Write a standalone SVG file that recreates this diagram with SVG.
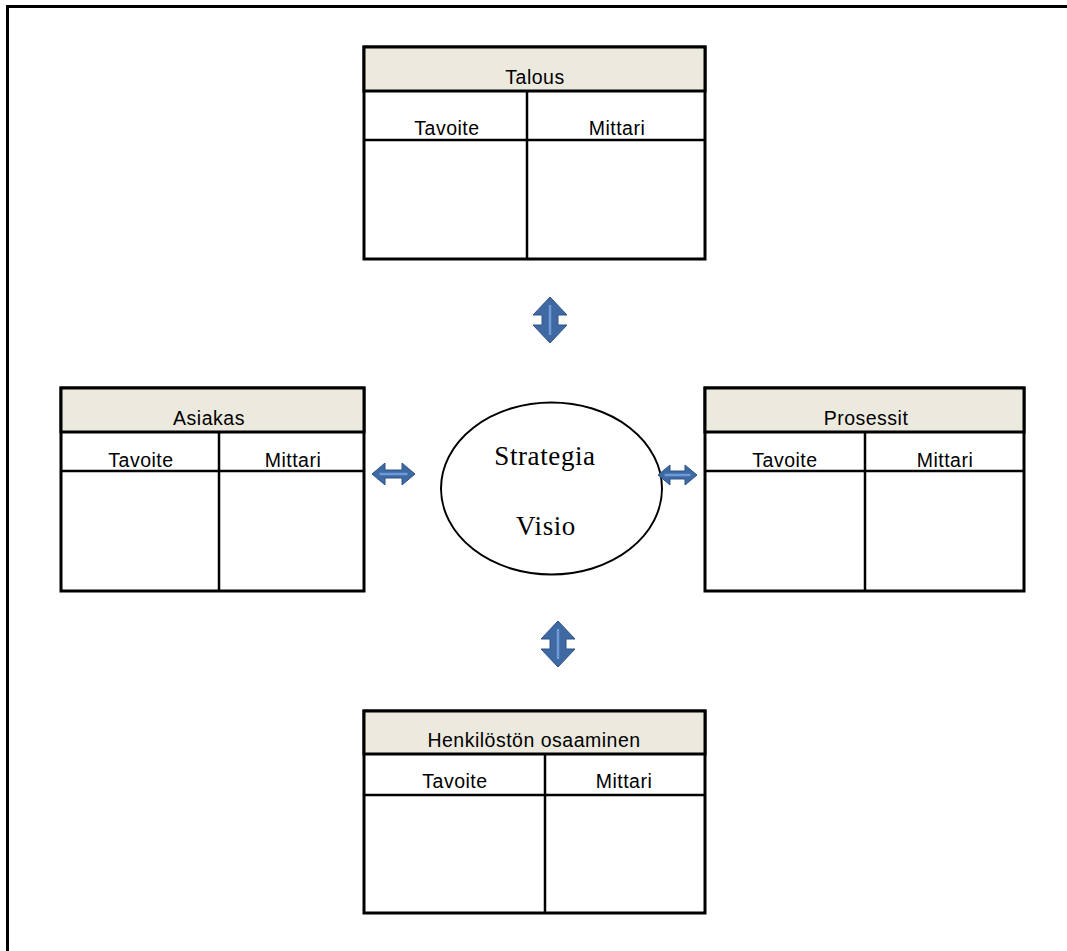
<svg xmlns="http://www.w3.org/2000/svg" width="1067" height="951" viewBox="0 0 1067 951">
<style>
.box{fill:#fff;stroke:#000;stroke-width:3}
.hdr{fill:#ECE9DF;stroke:#000;stroke-width:3}
.ln{stroke:#000;stroke-width:2.5;fill:none}
.t{font-family:"Liberation Sans",Arial,sans-serif;font-size:19.5px;letter-spacing:0.5px;fill:#000;text-anchor:middle}
.s{font-family:"Liberation Serif","Times New Roman",serif;font-size:27px;letter-spacing:0.6px;fill:#000;text-anchor:middle}
.arr{fill:#3E69A2;stroke:#2E5488;stroke-width:1;stroke-linejoin:miter}
.in{stroke:#6C9BD8;stroke-width:2.5;fill:none}
</style>
<g id="frame">
<line x1="7.5" y1="6.5" x2="1067" y2="6.5" stroke="#000" stroke-width="3"/>
<line x1="7.5" y1="5" x2="7.5" y2="951" stroke="#000" stroke-width="3"/>
</g>
<g id="talous">
<rect class="box" x="364" y="47" width="341" height="212"/>
<rect class="hdr" x="364" y="47" width="341" height="44"/>
<line class="ln" x1="364" y1="140" x2="705" y2="140"/>
<line class="ln" x1="527" y1="91" x2="527" y2="259"/>
<text class="t" x="535" y="84">Talous</text>
<text class="t" x="447" y="135">Tavoite</text>
<text class="t" x="617" y="135">Mittari</text>
</g>
<g id="asiakas">
<rect class="box" x="61" y="388" width="303" height="203"/>
<rect class="hdr" x="61" y="388" width="303" height="44"/>
<line class="ln" x1="61" y1="471" x2="364" y2="471"/>
<line class="ln" x1="219" y1="432" x2="219" y2="591"/>
<text class="t" x="209" y="425">Asiakas</text>
<text class="t" x="141" y="467">Tavoite</text>
<text class="t" x="293" y="467">Mittari</text>
</g>
<g id="prosessit">
<rect class="box" x="705" y="388" width="319" height="203"/>
<rect class="hdr" x="705" y="388" width="319" height="44"/>
<line class="ln" x1="705" y1="471" x2="1024" y2="471"/>
<line class="ln" x1="865" y1="432" x2="865" y2="591"/>
<text class="t" x="866" y="425">Prosessit</text>
<text class="t" x="785" y="467">Tavoite</text>
<text class="t" x="945" y="467">Mittari</text>
</g>
<g id="henkilosto">
<rect class="box" x="364" y="711" width="341" height="202"/>
<rect class="hdr" x="364" y="711" width="341" height="43"/>
<line class="ln" x1="364" y1="795" x2="705" y2="795"/>
<line class="ln" x1="545" y1="754" x2="545" y2="913"/>
<text class="t" x="534" y="747">Henkilöstön osaaminen</text>
<text class="t" x="455" y="788">Tavoite</text>
<text class="t" x="624" y="788">Mittari</text>
</g>
<g id="strategia">
<ellipse cx="551.5" cy="488.5" rx="110.5" ry="86" fill="#fff" stroke="#000" stroke-width="2"/>
<text class="s" x="545" y="465">Strategia</text>
<text class="s" x="546" y="535">Visio</text>
</g>
<g id="connectors">
<g transform="translate(550,320)">
<path class="arr" d="M0,-23 L17,-5 L8,-5 L8,5 L17,5 L0,23 L-17,5 L-8,5 L-8,-5 L-17,-5 Z"/>
<line class="in" x1="0" y1="-15" x2="0" y2="15"/>
</g>
<g transform="translate(558,644)">
<path class="arr" d="M0,-23 L17,-5 L8,-5 L8,5 L17,5 L0,23 L-17,5 L-8,5 L-8,-5 L-17,-5 Z"/>
<line class="in" x1="0" y1="-15" x2="0" y2="15"/>
</g>
<g transform="translate(393.5,474)">
<path class="arr" d="M-21.5,0 L-8.5,-11 L-8.5,-4 L8.5,-4 L8.5,-11 L21.5,0 L8.5,11 L8.5,4 L-8.5,4 L-8.5,11 Z"/>
<line class="in" x1="-14" y1="0" x2="14" y2="0"/>
</g>
<g transform="translate(677.5,475)">
<path class="arr" d="M-19.5,0 L-7.5,-10 L-7.5,-4 L7.5,-4 L7.5,-10 L19.5,0 L7.5,10 L7.5,4 L-7.5,4 L-7.5,10 Z"/>
<line class="in" x1="-13" y1="0" x2="13" y2="0"/>
</g>
</g>
</svg>
